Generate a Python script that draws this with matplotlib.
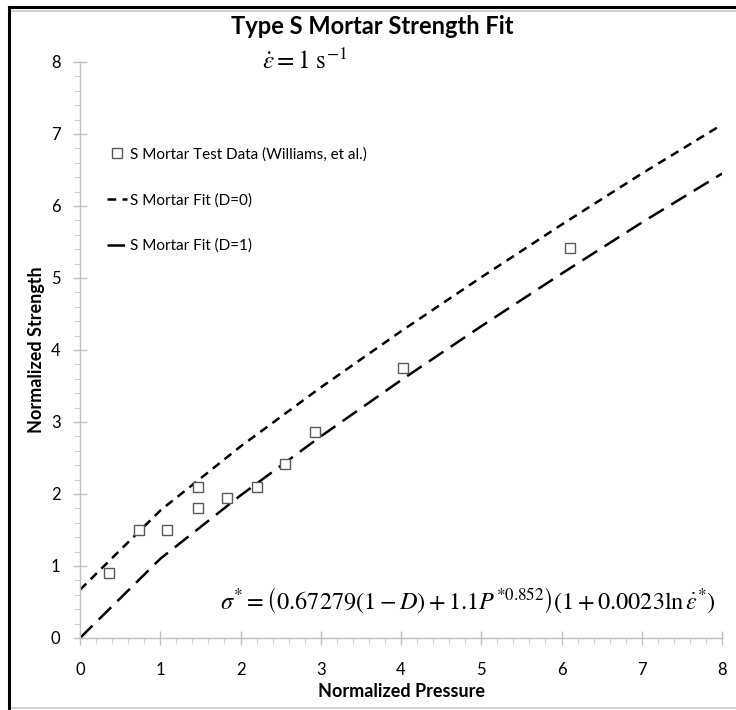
import matplotlib
matplotlib.use("Agg")
import matplotlib.pyplot as plt
from matplotlib.lines import Line2D
from matplotlib.ticker import MultipleLocator

plt.rcParams['mathtext.fontset'] = 'stix'
plt.rcParams['font.family'] = ['Lato', 'DejaVu Sans']

# Test data (Williams, et al.)
test_p = [0.36, 0.73, 1.09, 1.47, 1.47, 1.83, 2.20, 2.56, 2.93, 4.02, 6.10]
test_s = [0.90, 1.50, 1.50, 1.81, 2.10, 1.95, 2.10, 2.41, 2.86, 3.75, 5.41]

# Fit curves
fit_p = [0, 1, 2, 3, 4, 5, 6, 7, 8]
fit_d0 = [0.67, 1.77, 2.66, 3.48, 4.26, 5.01, 5.74, 6.45, 7.13]
fit_d1 = [0.00, 1.10, 1.98, 2.80, 3.58, 4.33, 5.06, 5.77, 6.45]

fig = plt.figure(figsize=(7.36, 7.10), dpi=100)
ax = fig.add_axes([80/736, 1-638/710, 642/736, 576/710])

ax.plot(fit_p, fit_d0, color='black', lw=1.8, dashes=(3.5, 2.5), label='S Mortar Fit (D=0)')
ax.plot(fit_p, fit_d1, color='black', lw=1.8, dashes=(7, 3.5), label='S Mortar Fit (D=1)')
ax.plot(test_p, test_s, linestyle='none', marker='s', markersize=7.5,
        markerfacecolor='white', markeredgecolor='#595959', markeredgewidth=1.0,
        label='S Mortar Test Data (Williams, et al.)', zorder=3)

ax.set_xlim(0, 8)
ax.set_ylim(0, 8)
ax.xaxis.set_major_locator(MultipleLocator(1))
ax.yaxis.set_major_locator(MultipleLocator(1))
ax.xaxis.set_minor_locator(MultipleLocator(0.2))
ax.yaxis.set_minor_locator(MultipleLocator(0.2))
for s in ['top', 'right']:
    ax.spines[s].set_visible(False)
for s in ['left', 'bottom']:
    ax.spines[s].set_color('#bfbfbf')
    ax.spines[s].set_linewidth(1.0)
ax.tick_params(which='major', direction='inout', length=10, color='#bfbfbf', width=1,
               labelsize=12)
ax.tick_params(which='minor', direction='out', length=4, color='#d0d0d0', width=0.8)
ax.tick_params(axis='y', which='major', pad=9)
ax.tick_params(axis='x', which='major', pad=12)

ax.set_xlabel('Normalized Pressure', fontsize=13, fontweight='bold', labelpad=4)
ax.set_ylabel('Normalized Strength', fontsize=13, fontweight='bold', labelpad=4)

fig.text(372/736, 1-27/710, 'Type S Mortar Strength Fit', ha='center', va='center',
         fontsize=17, fontweight='bold')
fig.text(305/736, 1-60/710, r'$\dot{\varepsilon}=1\ \mathrm{s}^{-1}$', ha='center', va='center',
         fontsize=18)
fig.text(220/736, 1-600/710,
         r'$\sigma^{*}=\left(0.67279(1-D)+1.1P^{*0.852}\right)\left(1+0.0023\ln\dot{\varepsilon}^{*}\right)$',
         ha='left', va='center', fontsize=17.5)

h, l = ax.get_legend_handles_labels()
order = [2, 0, 1]
leg = ax.legend([h[i] for i in order], [l[i] for i in order], loc='upper left',
                bbox_to_anchor=(0.042, 0.852), frameon=False, fontsize=11,
                handlelength=1.3, handletextpad=0.2, labelspacing=2.05, borderpad=0,
                borderaxespad=0)

# frame around the figure
fig.add_artist(Line2D([12/736, 735/736], [1-11/710, 1-11/710], transform=fig.transFigure,
                      color='#c8c8c8', lw=1.2))
fig.add_artist(Line2D([12/736, 735/736], [1-708/710, 1-708/710], transform=fig.transFigure,
                      color='#c8c8c8', lw=1.2))
fig.add_artist(Line2D([9/736, 736/736], [1-7/710, 1-7/710], transform=fig.transFigure,
                      color='black', lw=2.2))
fig.add_artist(Line2D([9/736, 9/736], [1-7/710, 0], transform=fig.transFigure,
                      color='black', lw=2.2))

fig.savefig('out.png', dpi=100)
